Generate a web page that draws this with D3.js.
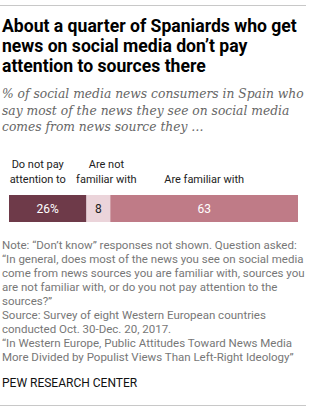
<!DOCTYPE html>
<html>
<head>
<meta charset="utf-8">
<script src="https://cdn.jsdelivr.net/npm/d3@7"></script>
<style>
  body { margin: 0; background: #fff; }
  svg { display: block; }
</style>
</head>
<body>
<div id="chart"></div>
<script>
const categories = ["Do not pay|attention to", "Are not|familiar with", "Are familiar with"];
const values = [26, 8, 63];
const valueLabels = ["26%", "8", "63"];
const colors = ["#6e3a49", "#ebd4da", "#bf7b87"];
const labelColors = ["#fff", "#222", "#fff"];

const titleLines = ["About a quarter of Spaniards who get", "news on social media don\u2019t pay", "attention to sources there"];
const subtitleLines = ["% of social media news consumers in Spain who", "say most of the news they see on social media", "comes from news source they \u2026"];
const noteLines = [
  "Note: \u201cDon\u2019t know\u201d responses not shown. Question asked:",
  "\u201cIn general, does most of the news you see on social media",
  "come from news sources you are familiar with, sources you",
  "are not familiar with, or do you not pay attention to the",
  "sources?\u201d",
  "Source: Survey of eight Western European countries",
  "conducted Oct. 30-Dec. 20, 2017.",
  "\u201cIn Western Europe, Public Attitudes Toward News Media",
  "More Divided by Populist Views Than Left-Right Ideology\u201d"
];

const W = 310, H = 417;
const svg = d3.select("#chart").append("svg").attr("width", W).attr("height", H);

// rules top and bottom
svg.append("line").attr("x1", 0).attr("x2", 306).attr("y1", 5.5).attr("y2", 5.5)
  .attr("stroke", "#c8c8c8").attr("stroke-width", 1);
svg.append("line").attr("x1", 0).attr("x2", 306).attr("y1", 405.5).attr("y2", 405.5)
  .attr("stroke", "#c8c8c8").attr("stroke-width", 1);

svg.append("g").selectAll("text").data(titleLines).join("text")
  .attr("x", 2).attr("y", (d, i) => 32 + i * 20)
  .attr("font-family", "Roboto, sans-serif").attr("font-weight", 700)
  .attr("font-size", 17.6).attr("fill", "#000").text(d => d);

svg.append("g").selectAll("text").data(subtitleLines).join("text")
  .attr("x", 2).attr("y", (d, i) => 98 + i * 16.5)
  .attr("font-family", "'DejaVu Serif', serif").attr("font-style", "italic")
  .attr("font-size", 12.3).attr("fill", "#666").text(d => d);

// stacked bar
const starts = values.map((v, i) => d3.sum(values.slice(0, i)));
const x = d3.scaleLinear().domain([0, d3.sum(values)]).range([9, 298]);
const barY = 195, barH = 27;

svg.append("g").selectAll("rect").data(values).join("rect")
  .attr("x", (d, i) => x(starts[i]))
  .attr("y", barY)
  .attr("width", d => x(d) - x(0))
  .attr("height", barH)
  .attr("fill", (d, i) => colors[i]);

svg.append("g").selectAll("text").data(valueLabels).join("text")
  .attr("x", (d, i) => x(starts[i] + values[i] / 2))
  .attr("y", barY + 18)
  .attr("text-anchor", "middle")
  .attr("font-family", "Roboto, sans-serif").attr("font-size", 12)
  .attr("fill", (d, i) => labelColors[i]).text(d => d);

// category labels, bottom-aligned above the bar; the two narrow ones are
// nudged apart so they don't collide
const nudge = [-10, 8, 0];
const catG = svg.append("g");
categories.forEach((c, i) => {
  const lines = c.split("|");
  const cx = x(starts[i] + values[i] / 2) + nudge[i];
  lines.forEach((l, j) => {
    catG.append("text")
      .attr("x", cx)
      .attr("y", 183 - (lines.length - 1 - j) * 15)
      .attr("text-anchor", "middle")
      .attr("font-family", "Roboto, sans-serif").attr("font-size", 11)
      .attr("fill", "#222").text(l);
  });
});

svg.append("g").selectAll("text").data(noteLines).join("text")
  .attr("x", 2).attr("y", (d, i) => 249 + i * 14)
  .attr("font-family", "Roboto, sans-serif").attr("font-size", 11.5)
  .attr("fill", "#777").text(d => d);

svg.append("text").attr("x", 2).attr("y", 387)
  .attr("font-family", "Roboto, sans-serif").attr("font-size", 12)
  .attr("fill", "#111").text("PEW RESEARCH CENTER");
</script>
</body>
</html>
